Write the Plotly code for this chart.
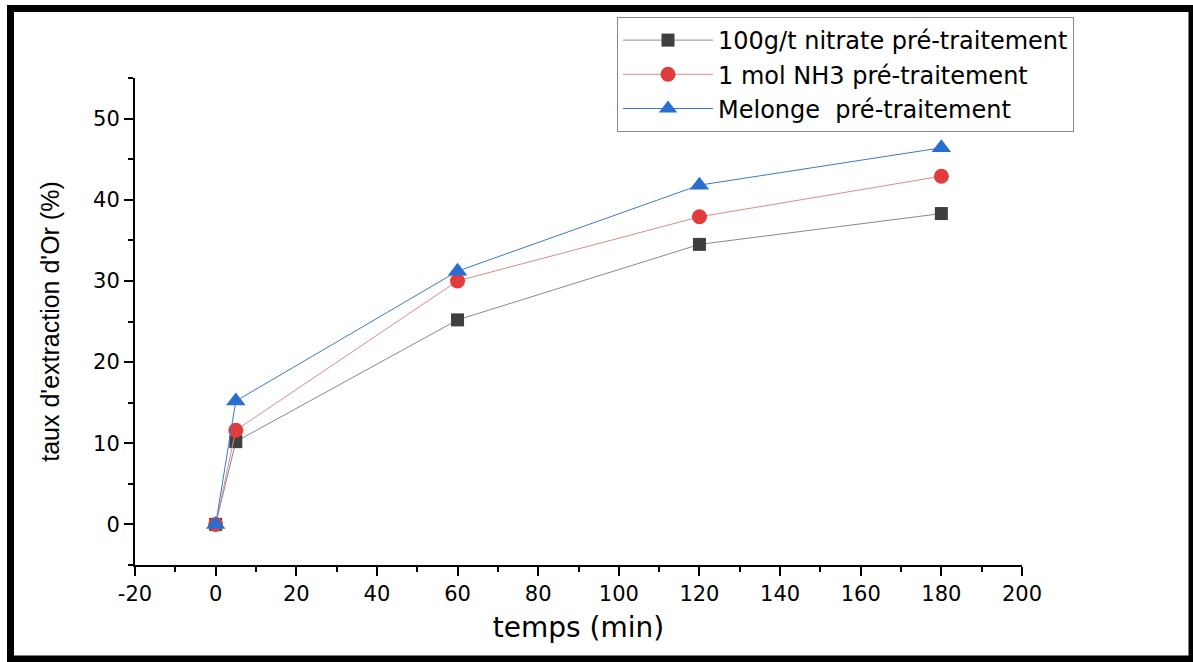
import plotly.graph_objects as go

temps = [0, 5, 60, 120, 180]
nitrate = [0, 10.2, 25.2, 34.5, 38.3]
nh3 = [0, 11.6, 30.0, 37.9, 42.9]
melonge = [0, 15.2, 31.2, 41.8, 46.4]

names = ["100g/t nitrate pré-traitement", "1 mol NH3 pré-traitement", "Melonge  pré-traitement"]
x_ticks = list(range(-20, 201, 20))
x_labels = [str(v) for v in x_ticks]
y_ticks = [0, 10, 20, 30, 40, 50]
y_labels = [str(v) for v in y_ticks]

W, H = 1193, 662
L, R, T, B = 135, 171, 78, 97
pw, ph = W - L - R, H - T - B

TICKFONT = "DejaVu Sans, Liberation Sans, Arial"

fig = go.Figure()
fig.add_trace(go.Scatter(x=temps, y=nitrate, name=names[0], mode="lines+markers",
                         line=dict(color="#8a8a8a", width=1),
                         marker=dict(symbol="square", size=13, color="#3f3f3f")))
fig.add_trace(go.Scatter(x=temps, y=nh3, name=names[1], mode="lines+markers",
                         line=dict(color="#e08a8a", width=1),
                         marker=dict(symbol="circle", size=15, color="#e23b3b")))
fig.add_trace(go.Scatter(x=temps, y=melonge, name=names[2], mode="lines+markers",
                         line=dict(color="#3a7ac8", width=1),
                         marker=dict(symbol="triangle-up", size=17, color="#2a6fcf")))

axis_common = dict(showline=True, linecolor="black", linewidth=2, ticks="outside",
                   ticklen=9, tickwidth=2, tickcolor="black", showgrid=False, zeroline=False,
                   tickfont=dict(family=TICKFONT, size=21, color="black"),
                   minor=dict(ticks="outside", ticklen=5, tickwidth=2, tickcolor="black", showgrid=False))

fig.update_xaxes(range=[-20, 200], tickvals=x_ticks, ticktext=x_labels, minor_dtick=10,
                 title=dict(text="temps (min)", font=dict(family=TICKFONT, size=28, color="black"), standoff=12),
                 **axis_common)
fig.update_yaxes(range=[-5, 55], tickvals=y_ticks, ticktext=y_labels, minor_dtick=5,
                 title=dict(text="taux d'extraction d'Or (%)", font=dict(family="Liberation Sans Narrow, Liberation Sans, Arial", size=25, color="black"), standoff=26),
                 **axis_common)

def px_x(p):
    return (p - L) / pw

def px_y(p):
    return (H - B - p) / ph

fig.add_shape(type="rect", xref="paper", yref="paper",
              x0=px_x(10.5), x1=px_x(1192), y0=px_y(659), y1=px_y(8.5),
              line=dict(color="black", width=7), fillcolor="rgba(0,0,0,0)", layer="above")

fig.update_layout(width=W, height=H, margin=dict(l=L, r=R, t=T, b=B),
                  paper_bgcolor="white", plot_bgcolor="white",
                  legend=dict(x=px_x(617), y=px_y(17), xanchor="left", yanchor="top",
                              bordercolor="#888888", borderwidth=1, bgcolor="white",
                              font=dict(family=TICKFONT, size=24, color="black"),
                              itemwidth=90, tracegroupgap=0))

fig.write_html("out.html")
